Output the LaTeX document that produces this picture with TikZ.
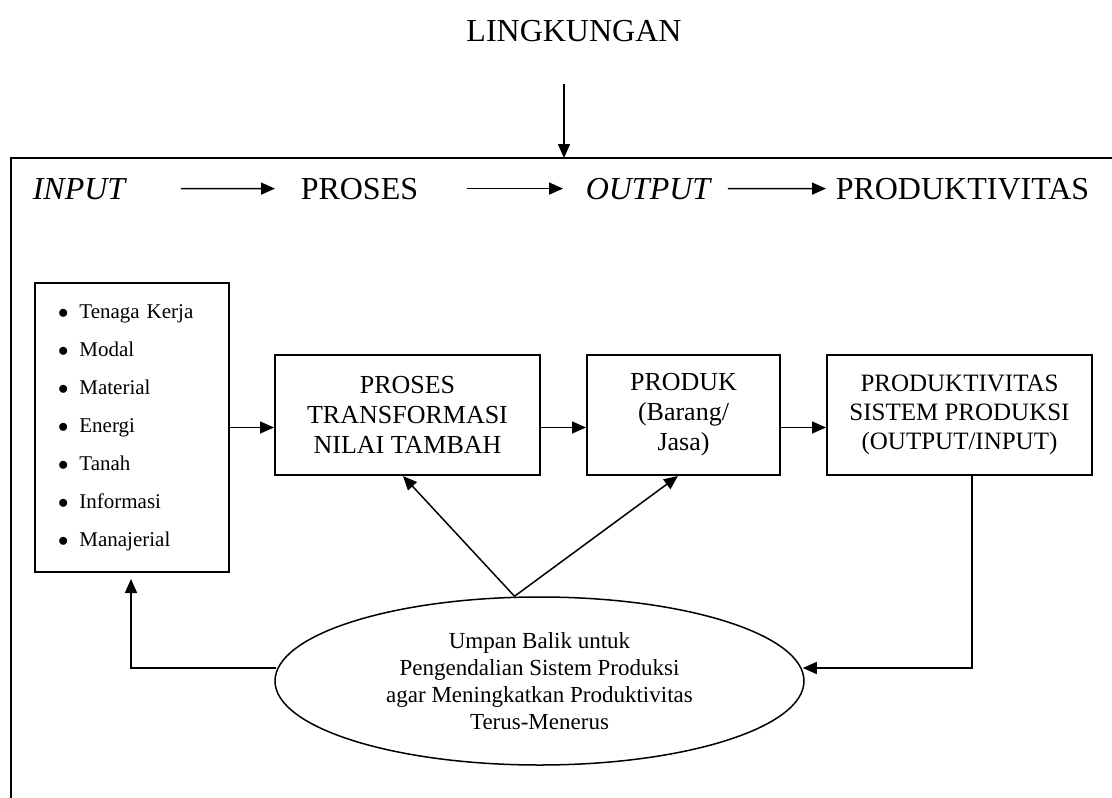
\documentclass[tikz,border=0pt]{standalone}
\usepackage{fontspec}
\setmainfont{Liberation Serif}
\usetikzlibrary{arrows.meta,positioning,shapes.geometric}

\begin{document}
\begin{tikzpicture}[x=1pt,y=-1pt,>={Triangle[length=14pt,width=12pt]},line width=1.5pt]
  \tikzstyle{blok}=[draw,line width=2pt,minimum height=120pt,inner sep=0pt,align=center,font=\fontsize{26}{30}\selectfont]
  \tikzstyle{judul}=[inner sep=0pt,anchor=base west,font=\fontsize{32}{36}\selectfont]

  \useasboundingbox (0,0) rectangle (1112,798);

  % frame
  \draw[line width=2pt] (1112,158) -- (11,158) -- (11,798);
  \coordinate (bingkai) at (564,158);

  \node[inner sep=0pt,font=\fontsize{32}{36}\selectfont] (lingk) at (574,31) {LINGKUNGAN};
  \draw[->] ([xshift=-10pt,yshift=-41pt]lingk.south) -- (bingkai);

  % header row
  \node[judul] (hinput)  at (32,199)  {\itshape INPUT};
  \node[judul] (hproses) at (300,199) {PROSES};
  \node[judul] (houtput) at (585,199) {\itshape OUTPUT};
  \node[judul] (hprod)   at (835,199) {PRODUKTIVITAS};

  \draw[->,shorten <=55pt,shorten >=25pt] (hinput) -- (hproses);
  \draw[->,shorten <=48pt,shorten >=22pt] (hproses) -- (houtput);
  \draw[->,shorten <=17pt,shorten >=9pt] (houtput) -- (hprod);

  % boxes
  \node[draw,line width=2pt,inner ysep=0pt,inner xsep=23pt,text width=148pt,minimum height=289pt,
        align=left,font=\fontsize{21}{38}\selectfont] (input) at (132,427.5)
    {$\bullet$\hspace{11pt}Tenaga Kerja\\
     $\bullet$\hspace{11pt}Modal\\
     $\bullet$\hspace{11pt}Material\\
     $\bullet$\hspace{11pt}Energi\\
     $\bullet$\hspace{11pt}Tanah\\
     $\bullet$\hspace{11pt}Informasi\\
     $\bullet$\hspace{11pt}Manajerial};
  \node[blok,minimum width=265pt] (proses) at (407.5,415) {PROSES\\TRANSFORMASI\\NILAI TAMBAH};
  \node[blok,minimum width=193pt] (produk) at (683.5,415) {PRODUK\\(Barang/\\Jasa)};
  \node[blok,minimum width=265pt,font=\fontsize{25}{29}\selectfont] (prod) at (959.5,415)
    {PRODUKTIVITAS\\SISTEM PRODUKSI\\(OUTPUT/INPUT)};

  \node[draw,ellipse,inner sep=0pt,minimum width=529pt,minimum height=168pt,align=center,
        font=\fontsize{23}{27}\selectfont] (fb) at (539.5,681)
    {Umpan Balik untuk\\Pengendalian Sistem Produksi\\agar Meningkatkan Produktivitas\\Terus-Menerus};
  \coordinate (fbtop) at ([xshift=-25pt]fb.north);
  \coordinate (fbkanan) at ([xshift=-2pt,yshift=13pt]fb.east);
  \coordinate (fbkiri) at ([xshift=2pt,yshift=13pt]fb.west);

  \draw[->] (input.east) -- (proses.west |- input.east);
  \draw[->] (proses.east |- input.east) -- (produk.west |- input.east);
  \draw[->] (produk.east |- input.east) -- (prod.west |- input.east);

  \draw[->] (fbtop) -- ([xshift=-4.5pt]proses.south);
  \draw[->] (fbtop) -- ([xshift=-5.5pt]produk.south);
  \draw[->] ([xshift=12.5pt]prod.south) |- (fbkanan);
  \draw[->] (fbkiri) -| ([xshift=-1pt,yshift=-6pt]input.south);
\end{tikzpicture}
\end{document}
